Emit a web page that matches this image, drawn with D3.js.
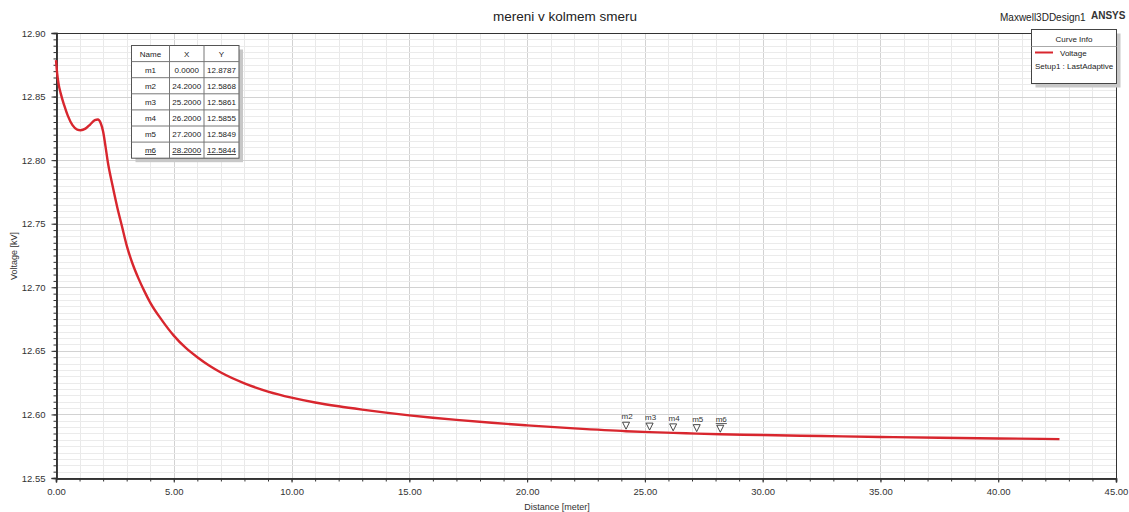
<!DOCTYPE html>
<html><head><meta charset="utf-8">
<script src="https://cdn.jsdelivr.net/npm/d3@7"></script>
<style>
body{margin:0;background:#fff;}
svg{display:block;font-family:Arial,"Liberation Sans",sans-serif;}
</style></head>
<body>
<svg id="c" width="1129" height="512"></svg>
<script>
const distance = [0,0.05,0.1,0.2,0.35,0.5,0.7,0.9,1.05,1.25,1.45,1.65,1.78,1.9,2.0,2.1,2.2,2.4,2.6,2.8,3.0,3.25,3.5,3.75,4.0,4.5,5.0,5.5,6.0,6.5,7.0,8.0,9.0,10.0,11.0,12.0,13.0,14.0,15.0,16.0,17.0,18.5,20.0,22.0,24.2,25.2,26.2,27.2,28.2,30.0,32.5,35.0,37.5,40.0,42.6];
const voltage = [12.8787,12.868,12.861,12.8525,12.843,12.835,12.8275,12.824,12.8235,12.8248,12.828,12.8315,12.832,12.829,12.8225,12.811,12.7985,12.780,12.763,12.748,12.733,12.7185,12.707,12.697,12.688,12.674,12.662,12.6525,12.645,12.6385,12.633,12.6245,12.618,12.6132,12.6094,12.6064,12.6038,12.6014,12.5993,12.5974,12.5957,12.5934,12.5914,12.589,12.5868,12.5861,12.5855,12.5849,12.5844,12.5838,12.583,12.5823,12.5816,12.5811,12.5806];
const markerNames = ["m1","m2","m3","m4","m5","m6"];
const markerX = [0.0,24.2,25.2,26.2,27.2,28.2];
const markerY = [12.8787,12.5868,12.5861,12.5855,12.5849,12.5844];
const xTicks = [0,5,10,15,20,25,30,35,40,45];
const yTicks = [12.55,12.60,12.65,12.70,12.75,12.80,12.85,12.90];

const svg = d3.select("#c");
const L=56,R=1116,T=33,B=478;
const x = d3.scaleLinear().domain([0,45]).range([L,R]);
const y = d3.scaleLinear().domain([12.55,12.90]).range([B,T]);

// grid
const g = svg.append("g");
const xMinor = d3.range(0,46,1), yMinor = d3.range(0,71).map(i=>12.55+i*0.005);
g.selectAll(".vx").data(xMinor).join("line")
 .attr("x1",d=>Math.round(x(d))+0.5).attr("x2",d=>Math.round(x(d))+0.5).attr("y1",T).attr("y2",B)
 .attr("stroke",d=>d%5===0?"#d2d2d2":"#e9e9e9").attr("stroke-width",1);
g.selectAll(".hy").data(yMinor).join("line")
 .attr("y1",d=>Math.round(y(d))+0.5).attr("y2",d=>Math.round(y(d))+0.5).attr("x1",L).attr("x2",R)
 .attr("stroke",(d,i)=>i%10===0?"#d2d2d2":"#ebebeb").attr("stroke-width",1);

// frame
svg.append("rect").attr("x",L+0.5).attr("y",T+0.5).attr("width",R-L).attr("height",B-T)
 .attr("fill","none").attr("stroke","#333").attr("stroke-width",1);

// axes
const fmt = d3.format(".2f");
const ax = svg.append("g").attr("transform",`translate(0,${B+0.5})`)
 .call(d3.axisBottom(x).tickValues(xTicks).tickFormat(fmt).tickSize(4).tickPadding(6));
const axm = svg.append("g").attr("transform",`translate(0,${B+0.5})`)
 .call(d3.axisBottom(x).tickValues(xMinor).tickFormat("").tickSize(3));
const ay = svg.append("g").attr("transform",`translate(${L+0.5},0)`)
 .call(d3.axisLeft(y).tickValues(yTicks).tickFormat(fmt).tickSize(5).tickPadding(6));
const aym = svg.append("g").attr("transform",`translate(${L+0.5},0)`)
 .call(d3.axisLeft(y).tickValues(yMinor).tickFormat("").tickSize(3));
[ax,axm,ay,aym].forEach(a=>{a.select(".domain").attr("stroke","#333").attr("stroke-width",1.5);
 a.selectAll(".tick line").attr("stroke","#333");
 a.selectAll("text").attr("font-size","9.5px").attr("fill","#333").attr("font-family","Arial,'Liberation Sans',sans-serif");});

// labels
svg.append("text").attr("x",565).attr("y",21).attr("text-anchor","middle").attr("font-size","13.5px").attr("fill","#222").text("mereni v kolmem smeru");
svg.append("text").attr("x",1000).attr("y",21).attr("font-size","10px").attr("fill","#222").text("Maxwell3DDesign1");
svg.append("text").attr("x",1091).attr("y",19).attr("font-size","10px").attr("font-weight","bold").attr("fill","#333").text("ANSYS");
svg.append("text").attr("x",557).attr("y",510).attr("text-anchor","middle").attr("font-size","9px").attr("fill","#333").text("Distance [meter]");
svg.append("text").attr("transform","translate(17,256) rotate(-90)").attr("text-anchor","middle").attr("font-size","9px").attr("fill","#333").text("Voltage [kV]");

// curve
const pts = distance.map((d,i)=>[d,voltage[i]]);
svg.append("path").datum(pts).attr("fill","none").attr("stroke","#d8262e").attr("stroke-width",2.4)
 .attr("d",d3.line().x(d=>x(d[0])).y(d=>y(d[1])).curve(d3.curveMonotoneX));

// markers m2..m6
const mk = svg.append("g");
markerNames.forEach((n,i)=>{
  if(i===0) return;
  const px=x(markerX[i]), py=y(markerY[i]);
  mk.append("path").attr("d",`M${px-3.5},${py-9}L${px+3.5},${py-9}L${px},${py-2}Z`)
   .attr("fill","#fff").attr("stroke","#333").attr("stroke-width",0.9);
  mk.append("text").attr("x",px+1).attr("y",py-12).attr("text-anchor","middle").attr("font-size","8px").attr("fill","#333")
   .attr("text-decoration",i===5?"underline":null).text(n);
});

// marker table
const tx=131.5, ty=45.5, cw=[38,34.5,35], rh=16.1;
const tw=cw[0]+cw[1]+cw[2], th=rh*7;
const tb = svg.append("g");
tb.append("rect").attr("x",tx+4).attr("y",ty+4).attr("width",tw).attr("height",th).attr("fill","#c8c8c8");
tb.append("rect").attr("x",tx).attr("y",ty).attr("width",tw).attr("height",th).attr("fill","#fff").attr("stroke","#555").attr("stroke-width",1);
const header=["Name","X","Y"];
const rows=[header].concat(markerNames.map((n,i)=>[n,markerX[i].toFixed(4),markerY[i].toFixed(4)]));
rows.forEach((r,ri)=>{
  if(ri>0) tb.append("line").attr("x1",tx).attr("x2",tx+tw).attr("y1",ty+ri*rh).attr("y2",ty+ri*rh).attr("stroke","#777");
  let cx=tx;
  r.forEach((c,ci)=>{
    tb.append("text").attr("x",cx+cw[ci]/2).attr("y",ty+ri*rh+11).attr("text-anchor","middle").attr("font-size","8px").attr("fill","#222")
      .attr("text-decoration",ri===6?"underline":null).text(c);
    cx+=cw[ci];
  });
});
[cw[0],cw[0]+cw[1]].forEach(o=>tb.append("line").attr("x1",tx+o).attr("x2",tx+o).attr("y1",ty).attr("y2",ty+th).attr("stroke","#777"));

// legend
const lx=1031.5, ly=29.5, lw=85, lh=54;
const lg=svg.append("g");
lg.append("rect").attr("x",lx+4).attr("y",ly+4).attr("width",lw).attr("height",lh).attr("fill","#c8c8c8");
lg.append("rect").attr("x",lx).attr("y",ly).attr("width",lw).attr("height",lh).attr("fill","#fff").attr("stroke","#444");
lg.append("text").attr("x",lx+lw/2).attr("y",42).attr("text-anchor","middle").attr("font-size","8px").attr("fill","#222").text("Curve Info");
lg.append("line").attr("x1",lx).attr("x2",lx+lw).attr("y1",46.5).attr("y2",46.5).attr("stroke","#aaa");
lg.append("line").attr("x1",1035).attr("x2",1053).attr("y1",52.5).attr("y2",52.5).attr("stroke","#d8262e").attr("stroke-width",2);
lg.append("text").attr("x",1060).attr("y",56).attr("font-size","8px").attr("fill","#222").text("Voltage");
lg.append("text").attr("x",1035).attr("y",69).attr("font-size","8px").attr("fill","#222").text("Setup1 : LastAdaptive");
</script>
</body></html>
